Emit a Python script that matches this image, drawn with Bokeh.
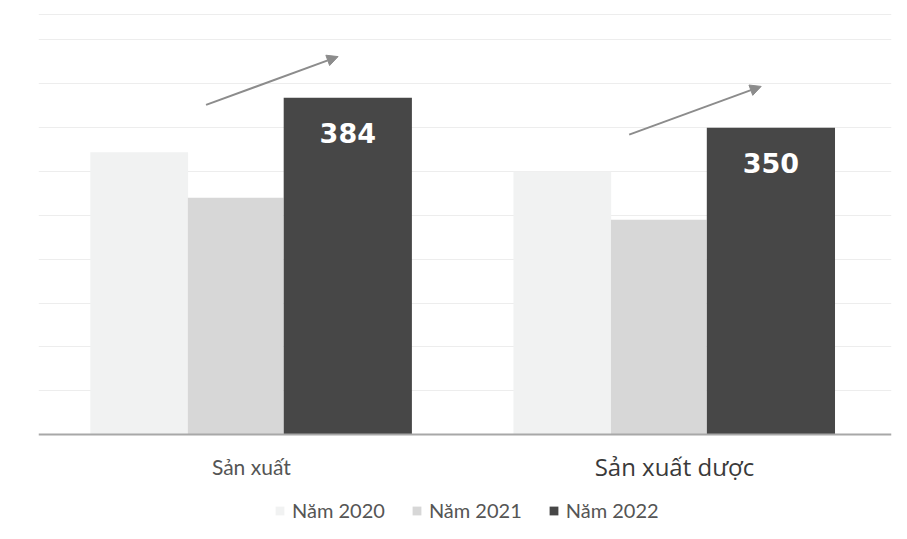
from bokeh.plotting import figure
from bokeh.models import ColumnDataSource, Label, Legend, LegendItem, Arrow, NormalHead, Span
from bokeh.core.properties import value
from bokeh.embed import file_html
from bokeh.resources import INLINE

categories = ["Sản xuất", "Sản xuất dược"]
years = ["Năm 2020", "Năm 2021", "Năm 2022"]
values_2020 = [322, 300]
values_2021 = [270, 245]
values_2022 = [384, 350]
grid_ticks = [50, 100, 150, 200, 250, 300, 350, 400, 450]

series = [values_2020, values_2021, values_2022]
colors = ["#f1f2f2", "#d7d7d7", "#474747"]
offsets = [-0.265, -0.037, 0.228]
widths = [0.231, 0.226, 0.303]

centers = [i + 1 for i in range(len(categories))]

p = figure(width=907, height=539, x_range=(0.497, 2.513), y_range=(-119.6, 479),
           output_backend="svg", toolbar_location=None,
           min_border_left=38, min_border_right=16, min_border_top=14, min_border_bottom=0)
p.background_fill_color = "white"
p.border_fill_color = "white"
p.outline_line_color = None

p.yaxis.visible = False
p.xaxis.visible = False
p.yaxis.ticker = grid_ticks
p.xgrid.visible = False
p.ygrid.grid_line_color = "#ededed"
p.ygrid.grid_line_width = 1

renderers = []
for vals, col, off, w in zip(series, colors, offsets, widths):
    src = ColumnDataSource(dict(x=[c + off for c in centers], top=vals))
    r = p.vbar(x="x", top="top", width=w, source=src, fill_color=col, line_color=None)
    renderers.append(r)

# baseline
p.add_layout(Span(location=0, dimension="width", line_color="#a8a8a8", line_width=2))
# faint top border
p.add_layout(Span(location=479, dimension="width", line_color="#dcdcdc", line_width=1))

# value labels inside the 2022 bars
p.text(x=[c + offsets[2] for c in centers], y=values_2022, text=[str(v) for v in values_2022],
       text_color="white", text_font=value("DejaVu Sans"), text_font_style="bold",
       text_font_size="27px", text_align="center", text_baseline="middle", y_offset=35)

# trend arrows
for c, v in zip(centers, values_2022):
    p.add_layout(Arrow(end=NormalHead(size=11, fill_color="#8c8c8c", line_color="#8c8c8c"),
                       x_start=c - 0.107, y_start=v - 8, x_end=c + 0.205, y_end=v + 47,
                       line_color="#8c8c8c", line_width=2))

# category labels
cat_sizes = ["21px", "24px"]
cat_fonts = ["Lato", "Open Sans"]
cat_colors = ["#555555", "#3a3a3a"]
for c, name, fs, ff, fc in zip(centers, categories, cat_sizes, cat_fonts, cat_colors):
    p.add_layout(Label(x=c, y=-36, text=name, text_align="center", text_baseline="middle",
                       text_font_size=fs, text_font=ff, text_color=fc))

legend = Legend(items=[LegendItem(label=y, renderers=[r]) for y, r in zip(years, renderers)],
                orientation="horizontal", location=(236, 17))
legend.label_text_font = "Lato"
legend.label_text_font_size = "20px"
legend.label_text_color = "#555555"
legend.glyph_width = 11
legend.glyph_height = 11
legend.label_standoff = 7
legend.spacing = 26
legend.padding = 0
legend.margin = 0
legend.border_line_color = None
legend.background_fill_alpha = 0
p.add_layout(legend)

open("out.html", "w").write(file_html(p, INLINE))
